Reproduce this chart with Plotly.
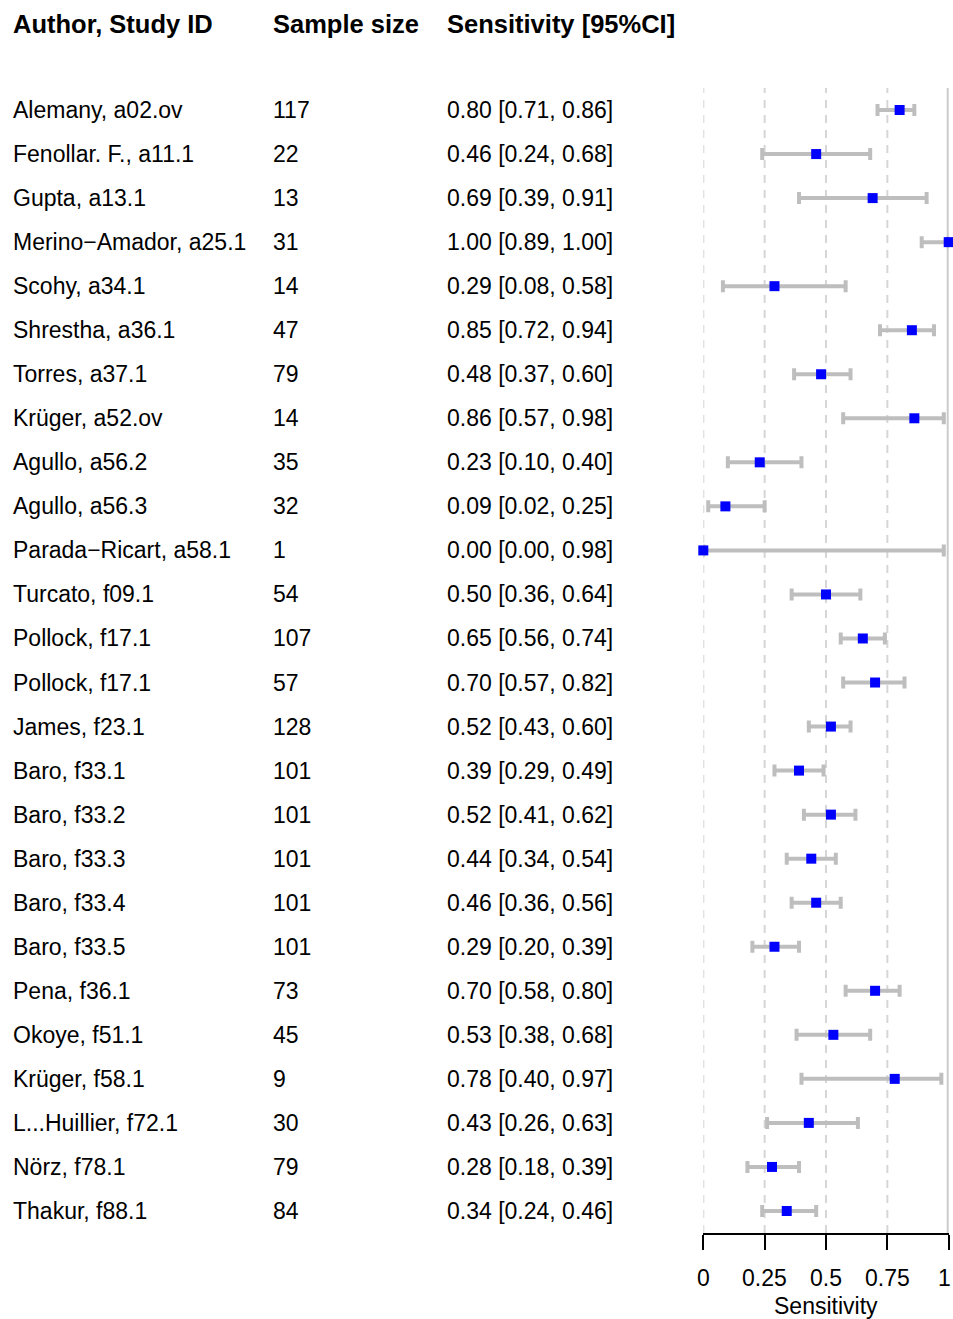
import plotly.graph_objects as go

# ---- data ----
study_labels = [
    "Alemany, a02.ov", "Fenollar. F., a11.1", "Gupta, a13.1", "Merino\u2212Amador, a25.1",
    "Scohy, a34.1", "Shrestha, a36.1", "Torres, a37.1", "Krüger, a52.ov",
    "Agullo, a56.2", "Agullo, a56.3", "Parada\u2212Ricart, a58.1", "Turcato, f09.1",
    "Pollock, f17.1", "Pollock, f17.1", "James, f23.1", "Baro, f33.1",
    "Baro, f33.2", "Baro, f33.3", "Baro, f33.4", "Baro, f33.5",
    "Pena, f36.1", "Okoye, f51.1", "Krüger, f58.1", "L...Huillier, f72.1",
    "Nörz, f78.1", "Thakur, f88.1",
]
sample_size = [117, 22, 13, 31, 14, 47, 79, 14, 35, 32, 1, 54, 107, 57, 128,
               101, 101, 101, 101, 101, 73, 45, 9, 30, 79, 84]
sensitivity = [0.80, 0.46, 0.69, 1.00, 0.29, 0.85, 0.48, 0.86, 0.23, 0.09, 0.00, 0.50,
               0.65, 0.70, 0.52, 0.39, 0.52, 0.44, 0.46, 0.29, 0.70, 0.53, 0.78, 0.43,
               0.28, 0.34]
ci_lower = [0.71, 0.24, 0.39, 0.89, 0.08, 0.72, 0.37, 0.57, 0.10, 0.02, 0.00, 0.36,
            0.56, 0.57, 0.43, 0.29, 0.41, 0.34, 0.36, 0.20, 0.58, 0.38, 0.40, 0.26,
            0.18, 0.24]
ci_upper = [0.86, 0.68, 0.91, 1.00, 0.58, 0.94, 0.60, 0.98, 0.40, 0.25, 0.98, 0.64,
            0.74, 0.82, 0.60, 0.49, 0.62, 0.54, 0.56, 0.39, 0.80, 0.68, 0.97, 0.63,
            0.39, 0.46]
x_ticks = [0, 0.25, 0.5, 0.75, 1]
x_tick_labels = ["0", "0.25", "0.5", "0.75", "1"]
x_title = "Sensitivity"
dashed_refs = [0, 0.25, 0.5, 0.75]
solid_refs = [1]
headers = ["Author, Study ID", "Sample size", "Sensitivity [95%CI]"]

W, H = 953, 1319
FONT = "Liberation Sans, Arial, sans-serif"
rows = list(range(1, len(study_labels) + 1))
PLOT_TOP, PLOT_BOTTOM = 88, 1233
PLOT_H = PLOT_BOTTOM - PLOT_TOP


def paper_y(px):
    return (PLOT_BOTTOM - px) / PLOT_H


fig = go.Figure()
fig.add_trace(go.Scatter(
    x=sensitivity, y=rows, mode="markers",
    marker=dict(symbol="square", size=10, color="#0000FF"),
    error_x=dict(type="data", symmetric=False,
                 array=[u - e for u, e in zip(ci_upper, sensitivity)],
                 arrayminus=[e - l for e, l in zip(sensitivity, ci_lower)],
                 color="#BEBEBE", thickness=4, width=6),
    cliponaxis=False, showlegend=False, hoverinfo="skip",
))

shapes = []
for v in dashed_refs:
    shapes.append(dict(type="line", xref="x", yref="paper", x0=v, x1=v, y0=0, y1=1,
                       line=dict(color="#D6D6D6", width=2, dash="8px,7px"), layer="below"))
for v in solid_refs:
    shapes.append(dict(type="line", xref="x", yref="paper", x0=v, x1=v, y0=0, y1=1,
                       line=dict(color="#CCCCCC", width=4), layer="below"))

col_x = [11 / W, 271 / W, 445 / W]
annotations = []
for i, r in enumerate(rows):
    texts = [study_labels[i], str(sample_size[i]),
             f"{sensitivity[i]:.2f} [{ci_lower[i]:.2f}, {ci_upper[i]:.2f}]"]
    for cx, t in zip(col_x, texts):
        annotations.append(dict(x=cx, y=r, xref="paper", yref="y", text=t, showarrow=False,
                                xanchor="left", yanchor="middle",
                                font=dict(family=FONT, size=23, color="#000000")))
for cx, t in zip(col_x, headers):
    annotations.append(dict(x=cx, y=paper_y(24), xref="paper", yref="paper",
                            text=f"<b>{t}</b>", showarrow=False, xanchor="left",
                            yanchor="middle",
                            font=dict(family=FONT, size=25.5, color="#000000")))

# tick labels (the last one sits at the page edge, kept inside the page)
for k, (tv, tt) in enumerate(zip(x_ticks, x_tick_labels)):
    last = k == len(x_ticks) - 1
    annotations.append(dict(x=tv, y=paper_y(1278), xref="x", yref="paper", text=tt,
                            showarrow=False, xanchor="right" if last else "center",
                            xshift=4 if last else 0, yanchor="middle",
                            font=dict(family=FONT, size=23, color="#000000")))
annotations.append(dict(x=0.5, y=paper_y(1306), xref="x", yref="paper", text=x_title,
                        showarrow=False, xanchor="center", yanchor="middle",
                        font=dict(family=FONT, size=23, color="#000000")))

fig.update_layout(
    width=W, height=H,
    margin=dict(l=0, r=0, t=PLOT_TOP, b=H - PLOT_BOTTOM),
    paper_bgcolor="white", plot_bgcolor="white",
    shapes=shapes, annotations=annotations,
    xaxis=dict(domain=[703.3 / W, 948.7 / W], range=[0, 1], showgrid=False, zeroline=False,
               showline=True, linecolor="black", linewidth=2,
               ticks="outside", ticklen=15, tickwidth=2, tickcolor="black",
               tickvals=x_ticks, showticklabels=False),
    yaxis=dict(range=[len(rows) + 0.5, 0.5], showgrid=False, zeroline=False,
               showline=False, showticklabels=False, ticks=""),
)

fig.write_html("out.html", config={"displayModeBar": False},
               post_script="document.body.style.margin='0';")
